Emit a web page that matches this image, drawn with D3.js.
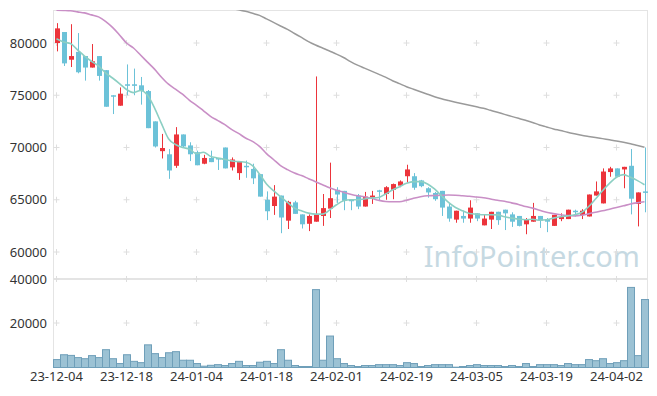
<!DOCTYPE html>
<html>
<head>
<meta charset="utf-8">
<script src="https://cdn.jsdelivr.net/npm/d3@7"></script>
<style>
  body { margin: 0; background: #fff; }
  svg { display: block; font-family: "Noto Sans", sans-serif; }
</style>
</head>
<body>
<svg id="chart" width="657" height="396"></svg>
<script>
// trading days shown on the chart
var dates = [
  "23-12-04","23-12-05","23-12-06","23-12-07","23-12-08","23-12-11","23-12-12","23-12-13","23-12-14","23-12-15",
  "23-12-18","23-12-19","23-12-20","23-12-21","23-12-22","23-12-26","23-12-27","23-12-28","24-01-02","24-01-03",
  "24-01-04","24-01-05","24-01-08","24-01-09","24-01-10","24-01-11","24-01-12","24-01-15","24-01-16","24-01-17",
  "24-01-18","24-01-19","24-01-22","24-01-23","24-01-24","24-01-25","24-01-26","24-01-29","24-01-30","24-01-31",
  "24-02-01","24-02-02","24-02-05","24-02-06","24-02-07","24-02-08","24-02-13","24-02-14","24-02-15","24-02-16",
  "24-02-19","24-02-20","24-02-21","24-02-22","24-02-23","24-02-26","24-02-27","24-02-28","24-02-29","24-03-04",
  "24-03-05","24-03-06","24-03-07","24-03-08","24-03-11","24-03-12","24-03-13","24-03-14","24-03-15","24-03-18",
  "24-03-19","24-03-20","24-03-21","24-03-22","24-03-25","24-03-26","24-03-27","24-03-28","24-03-29","24-04-01",
  "24-04-02","24-04-03","24-04-04","24-04-05","24-04-08"
];

var open = [
  80000,81050,78400,79150,78750,77650,78750,77400,75000,74000,
  76050,76050,75950,75400,72500,69650,69350,68250,71250,70200,
  69550,68450,69000,69000,70000,68100,67550,68250,67950,67450,
  65000,64400,65400,63000,64750,63600,62700,62900,63450,64150,
  65950,65850,65000,65400,64350,65200,65900,65550,65950,66350,
  67250,67250,66850,66100,65650,65850,64350,63100,63450,63200,
  63700,62550,63100,63850,64050,63600,63450,62650,62900,63450,
  63150,62500,63150,63150,63950,63550,63400,65400,64650,67650,
  68000,67900,68250,64600,65800
];
var high = [
  81900,81050,81800,80950,78750,79900,78750,77400,75000,75750,
  77950,77550,76750,75500,72500,71300,69850,71950,71250,70500,
  69700,69300,69700,69000,70000,69050,68650,68750,68450,67450,
  65800,66400,65400,64900,64900,63600,63600,76800,65550,68550,
  66200,65850,65050,65550,65750,65850,65950,66300,66550,66850,
  68350,67550,66900,66200,65750,65850,64600,63950,63950,64950,
  63700,63600,63850,63850,64050,63800,63450,63250,64700,63450,
  63250,63550,63700,64050,64050,64100,65500,66750,68000,68150,
  68000,68150,69850,65700,70000
];
var low = [
  79200,77800,77700,77100,76400,77650,76400,73900,73200,74000,
  75000,75000,74100,71850,70000,68950,67000,68050,69950,68700,
  68300,68400,68600,67850,68000,67800,66900,67100,66500,65300,
  63050,63550,61800,62200,63650,62250,62000,62900,62500,63250,
  64700,64000,64000,64100,64350,64600,64900,65000,65050,66200,
  66650,65950,66200,65200,64900,63450,62900,62800,62800,62800,
  62950,62550,62200,62600,62100,62400,62450,61700,62900,62300,
  61900,62500,62950,63150,63400,63150,63400,65400,64650,67200,
  67200,66100,63600,62450,63800
];
var close = [
  81400,78050,78750,77200,77650,78250,76850,73900,74950,75150,
  76000,75900,75400,71850,70100,69950,67800,71250,70100,69350,
  68300,69000,68600,68850,68000,68850,68650,68150,67050,65300,
  63900,65300,63300,64800,63650,62650,63450,63600,64200,65150,
  65500,64900,64900,64350,65300,65400,65850,66200,66500,66750,
  67900,66150,66300,65700,65050,64250,63200,63950,63200,64250,
  63200,63200,63850,63050,63700,62900,62500,63100,63450,63000,
  62900,63550,63350,64050,63900,63950,65500,65800,67700,68000,
  67200,68150,65100,65700,65700
];
var volume = [
  3600,5800,5500,4500,4000,5400,4500,8100,4000,1800,
  5800,2800,2200,10300,6300,4500,6700,7200,3300,3300,
  1800,600,1000,1300,900,1800,2800,900,900,2400,
  2800,1800,8100,3300,900,450,450,35400,3300,14300,
  4000,1800,900,450,900,900,1300,1300,1300,900,
  2200,1800,450,900,1300,1300,1300,150,450,900,
  1300,900,900,900,450,900,450,1800,450,1300,
  1300,1300,900,1800,1300,1300,3600,3100,4000,1800,
  2200,3100,36400,5400,30900
];

// moving averages (null = outside the view)
var ma5 = [
  80400,80100,79950,79350,78750,78250,77800,77150,76650,76120,
  75550,75250,75450,75000,73800,72280,70840,70290,70000,69850,
  69400,69550,69150,69000,68870,68720,68650,68590,68270,67470,
  66510,65870,65290,64740,64200,63940,63720,63620,63620,64010,
  64520,64900,65000,65000,65070,65160,65220,65550,65930,66250,
  66570,66730,66730,66510,66030,65380,64740,64260,63940,63680,
  63620,63560,63560,63550,63370,63240,63140,63080,63140,63040,
  63080,63240,63370,63460,63560,63780,64330,65070,65870,66570,
  67150,67400,67150,66830,66440
];
var ma20 = [
  83150,83120,83080,82980,82880,82690,82500,82070,81490,80770,
  80000,79520,78850,78170,77500,76730,76060,75580,75100,74520,
  74040,73510,72980,72600,72210,71730,71350,70910,70580,70100,
  69420,68850,68270,67880,67550,67310,67020,66730,66440,66150,
  65910,65720,65530,65380,65290,65140,64950,64830,64810,64810,
  64950,65140,65290,65380,65400,65430,65450,65430,65380,65340,
  65260,65190,65070,64950,64850,64700,64550,64350,64200,64000,
  63800,63670,63560,63490,63460,63510,63650,63810,63940,64100,
  64260,64420,64590,64710,64810
];
var ma60 = [
  null,null,null,null,null,null,null,null,null,null,
  null,null,null,null,null,null,null,null,null,null,
  null,null,null,null,83460,83320,83170,83030,82840,82640,
  82310,81970,81630,81300,80910,80530,80140,79810,79520,79230,
  78940,78610,78220,77880,77600,77310,77020,76730,76390,76110,
  75820,75580,75340,75100,74860,74660,74490,74330,74180,74040,
  73890,73750,73560,73370,73170,72980,72790,72600,72400,72160,
  71970,71780,71630,71460,71310,71170,71060,70960,70850,70740,
  70630,70500,70360,70190,70030
];

var priceTicks = [60000, 65000, 70000, 75000, 80000];
var volumeTicks = [20000, 40000];
var labelEvery = 10;

window.onload = function () {
    draw();
};

function draw() {
    var svg = d3.select("#chart");
    var left = 53, right = 648, top = 10, split = 279, bottom = 367;

    var x = d3.scaleBand().domain(dates).range([left, right]).padding(0);
    var cx = (d) => x(d) + x.bandwidth() / 2;
    var y = d3.scaleLinear().domain([60000, 80000]).range([252, 43]);
    var yv = d3.scaleLinear().domain([0, 40000]).range([bottom, split]);

    svg.append("defs").append("clipPath").attr("id", "clip-price")
        .append("rect")
        .attr("x", left).attr("y", top)
        .attr("width", right - left).attr("height", split - top);

    // watermark
    svg.append("text")
        .attr("x", 640).attr("y", 267)
        .attr("text-anchor", "end")
        .attr("font-size", 29)
        .attr("fill", "#c6d9e2")
        .text("InfoPointer.com");

    // frame
    var frame = svg.append("g").attr("stroke", "#e4e4e4").attr("fill", "none");
    frame.append("line").attr("x1", left).attr("x2", right).attr("y1", top + 0.5).attr("y2", top + 0.5);
    frame.append("line").attr("x1", left + 0.5).attr("x2", left + 0.5).attr("y1", top).attr("y2", bottom);
    frame.append("line").attr("x1", right - 0.5).attr("x2", right - 0.5).attr("y1", top).attr("y2", bottom);
    frame.append("line").attr("x1", left).attr("x2", right).attr("y1", split).attr("y2", split).attr("stroke-width", 2);

    // grid crosses
    var gx = dates.filter((d, i) => i % labelEvery == 0);
    var gy = priceTicks.map(y).concat(volumeTicks.map(yv));
    var crosses = [];
    gx.forEach((d) => gy.forEach((v) => crosses.push([cx(d), v])));
    svg.append("g").attr("stroke", "#dedede")
        .selectAll("path")
        .data(crosses)
        .join("path")
        .attr("d", (p) => `M${p[0] - 3},${p[1]}H${p[0] + 3}M${p[0]},${p[1] - 3}V${p[1] + 3}`);

    // axes text
    var yAxis = svg.append("g").attr("transform", `translate(${left},0)`)
        .call(d3.axisLeft(y).tickValues(priceTicks).tickSize(0).tickPadding(6).tickFormat(d3.format("d")));
    var vAxis = svg.append("g").attr("transform", `translate(${left},0)`)
        .call(d3.axisLeft(yv).tickValues(volumeTicks).tickSize(0).tickPadding(6).tickFormat(d3.format("d")));
    var xAxis = svg.append("g").attr("transform", `translate(0,${bottom})`)
        .call(d3.axisBottom(x).tickValues(gx).tickSize(0).tickPadding(5));
    [yAxis, vAxis, xAxis].forEach((g) => {
        g.select(".domain").remove();
        g.selectAll("text").attr("font-size", 13).attr("fill", "#333").attr("font-family", "Noto Sans, sans-serif");
    });

    // volume
    var rows = dates.map((d, i) => ({date: d, o: open[i], h: high[i], l: low[i], c: close[i], v: volume[i]}));
    svg.append("g")
        .selectAll("rect")
        .data(rows)
        .join("rect")
        .attr("x", (d) => x(d.date) + 0.5)
        .attr("y", (d) => yv(d.v) + 0.5)
        .attr("width", x.bandwidth())
        .attr("height", (d) => bottom - yv(d.v))
        .attr("fill", "#9cc2d4")
        .attr("stroke", "#6f9fb9");

    // candles
    var price = svg.append("g").attr("clip-path", "url(#clip-price)");
    var bw = 5;
    var candle = price.append("g")
        .selectAll("g")
        .data(rows)
        .join("g")
        .attr("fill", (d) => d.c >= d.o ? "#ec343b" : "#6cc2d8")
        .attr("stroke", (d) => d.c >= d.o ? "#ec343b" : "#6cc2d8");
    candle.append("line")
        .attr("x1", (d) => Math.round(cx(d.date)) + 0.5)
        .attr("x2", (d) => Math.round(cx(d.date)) + 0.5)
        .attr("y1", (d) => y(d.h))
        .attr("y2", (d) => y(d.l));
    candle.append("rect")
        .attr("stroke", "none")
        .attr("x", (d) => Math.round(cx(d.date)) + 0.5 - bw / 2)
        .attr("y", (d) => y(Math.max(d.o, d.c)))
        .attr("width", bw)
        .attr("height", (d) => Math.max(1.5, Math.abs(y(d.o) - y(d.c))));

    // moving averages
    var lines = [
        {values: ma60, color: "#9a9a9a", width: 1.5},
        {values: ma20, color: "#c98fc6", width: 1.6},
        {values: ma5, color: "#8ccfc3", width: 1.6},
    ];
    lines.forEach((s) => {
        var line = d3.line()
            .defined((v) => v != null)
            .x((v, i) => cx(dates[i]))
            .y((v) => y(v))
            .curve(d3.curveMonotoneX);
        price.append("path")
            .attr("d", line(s.values))
            .attr("fill", "none")
            .attr("stroke", s.color)
            .attr("stroke-width", s.width);
    });
}
</script>
</body>
</html>
